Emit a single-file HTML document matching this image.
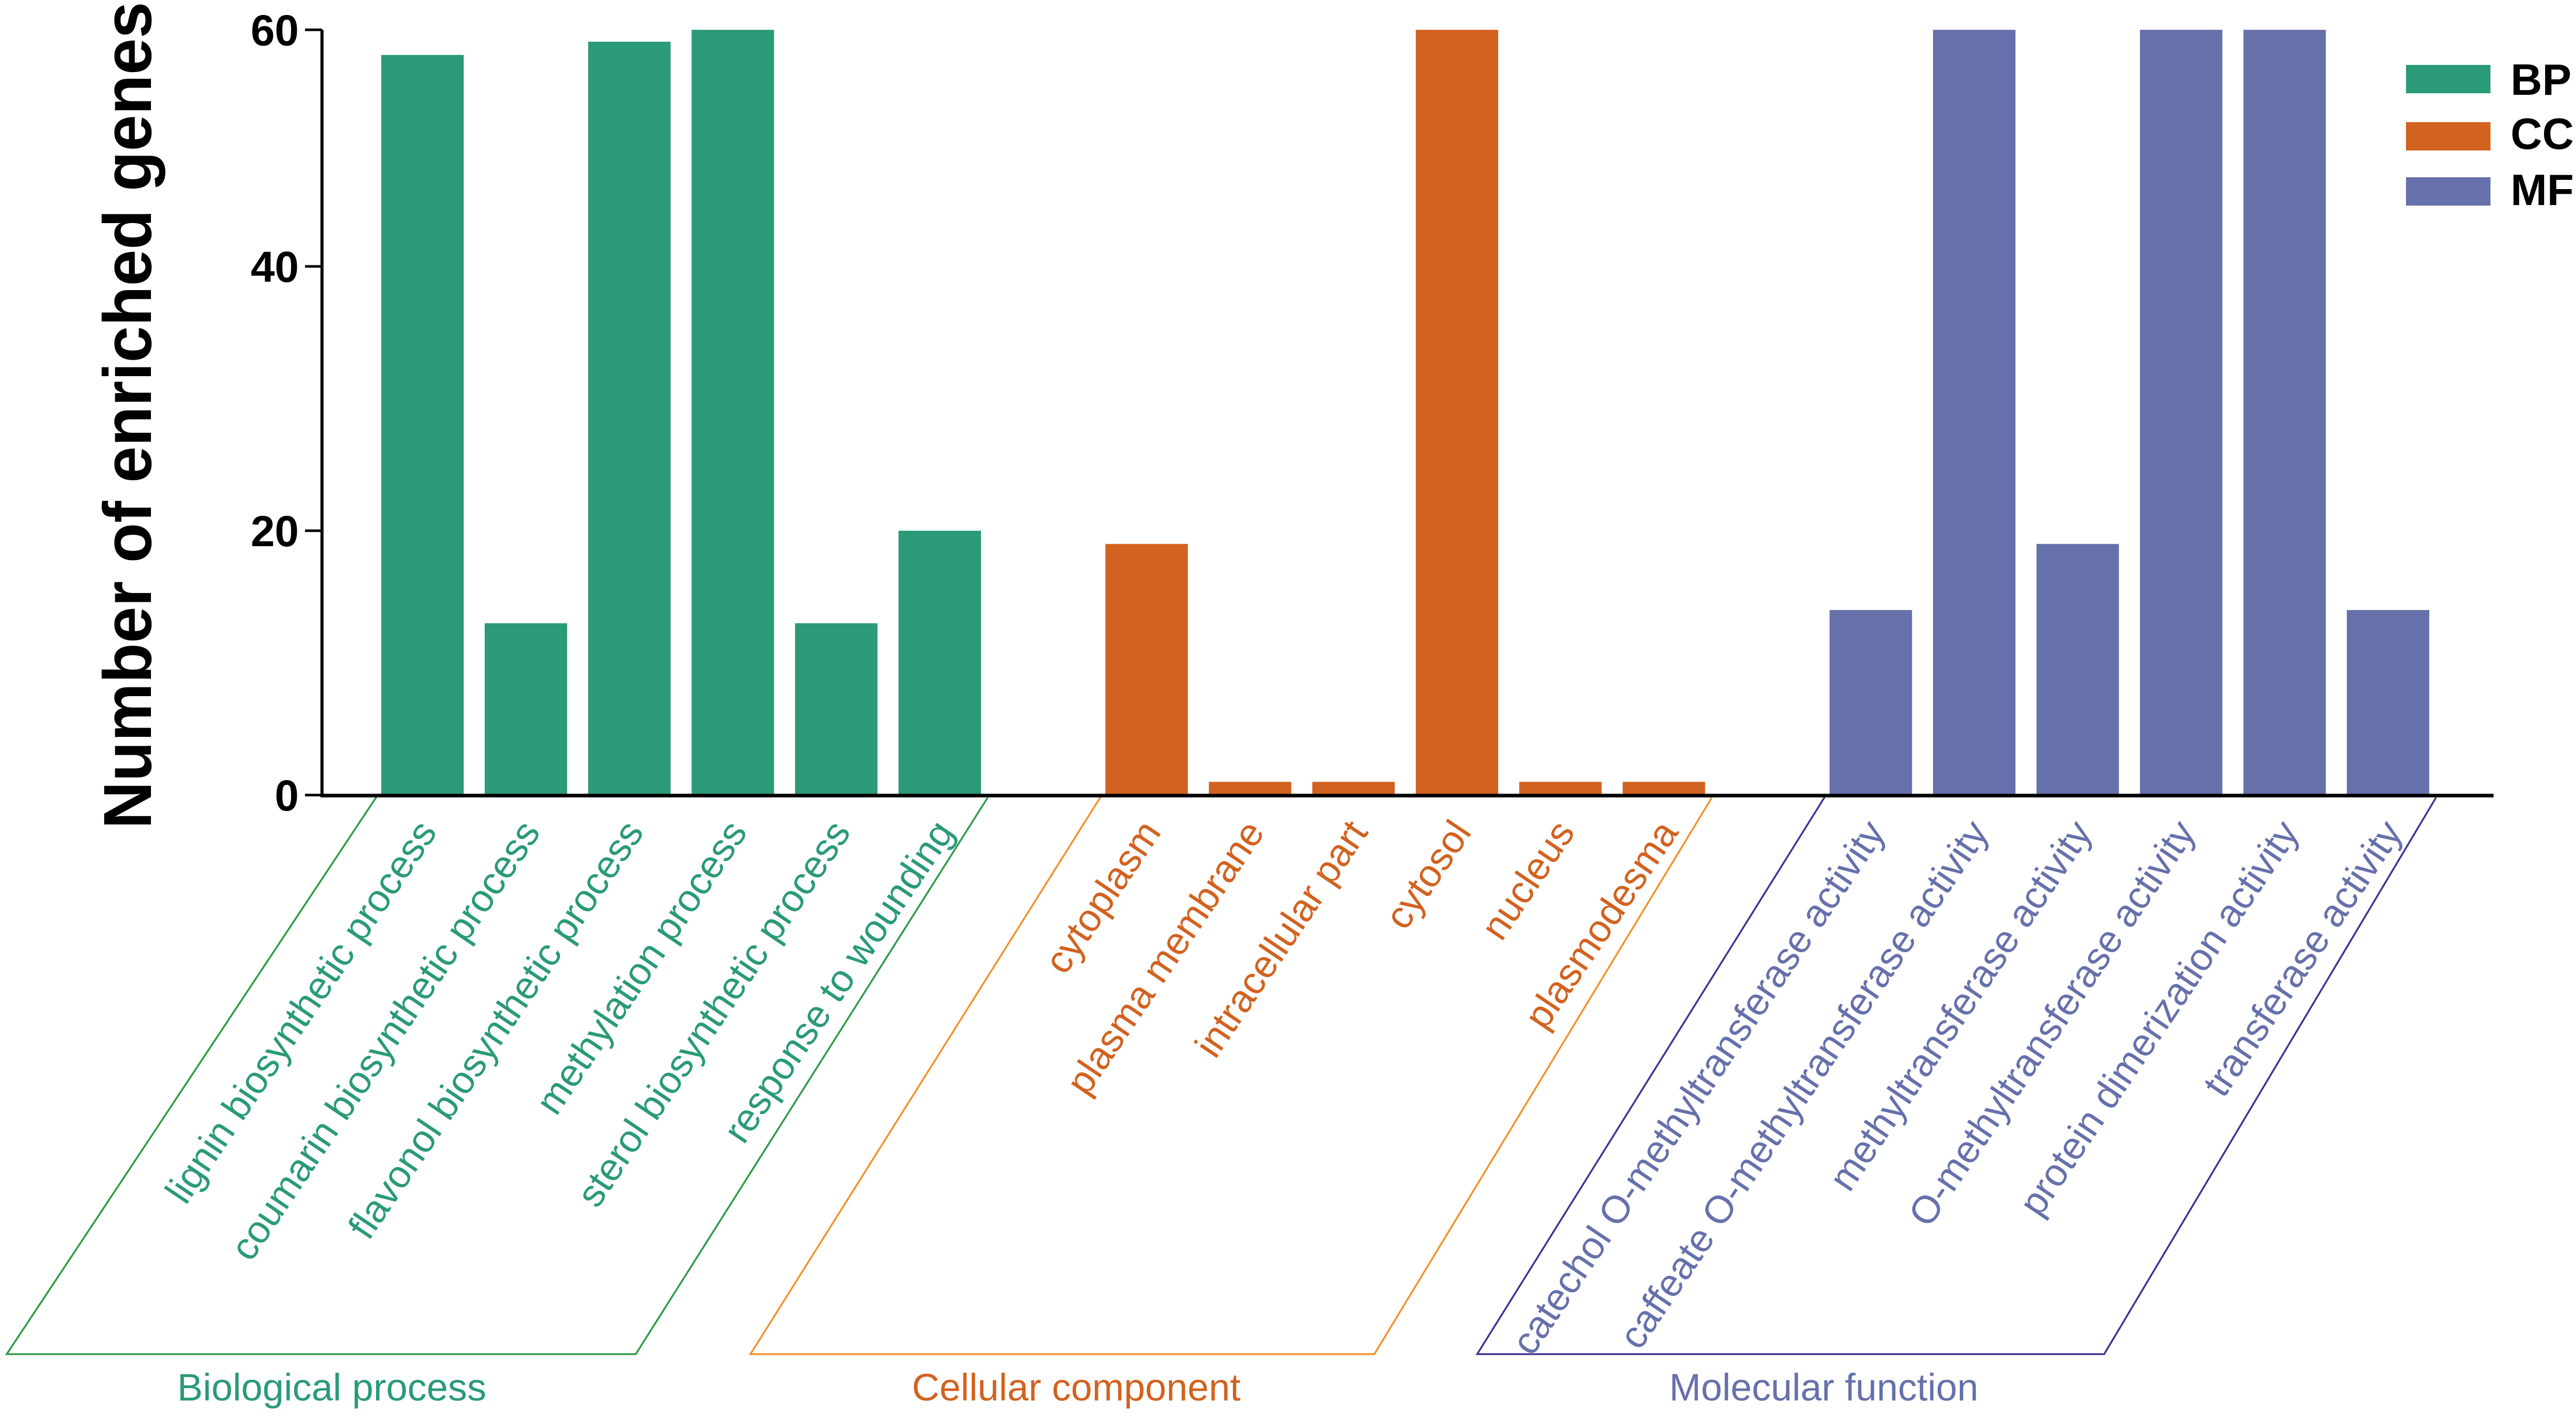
<!DOCTYPE html>
<html><head><meta charset="utf-8"><style>
html,body{margin:0;padding:0;background:#fff;}
svg{display:block;}
text{font-family:"Liberation Sans",Arial,sans-serif;}
</style></head><body>
<svg id="chart" width="5006" height="2750" viewBox="0 0 5006 2750" xmlns="http://www.w3.org/2000/svg">
<g id="brackets"></g>
<g id="bars"></g>
<g id="labels"></g>
<g id="axes"></g>
<g id="legend"></g>
</svg>
<script>
const groupNames = ["Biological process","Cellular component","Molecular function"];
const groupKeys = ["BP","CC","MF"];
const bpCategories = ["lignin biosynthetic process","coumarin biosynthetic process","flavonol biosynthetic process","methylation process","sterol biosynthetic process","response to wounding"];
const ccCategories = ["cytoplasm","plasma membrane","intracellular part","cytosol","nucleus","plasmodesma"];
const mfCategories = ["catechol O-methyltransferase activity","caffeate O-methyltransferase activity","methyltransferase activity","O-methyltransferase activity","protein dimerization activity","transferase activity"];
const bpValues = [56, 13, 57, 60, 13, 20];
const ccValues = [19, 1, 1, 60, 1, 1];
const mfValues = [14, 60, 19, 60, 60, 14];
const tickValues = [0, 20, 40, 60];
const tickLabels = ["0", "20", "40", "60"];
const axisMax = 57.9;

const NS = "http://www.w3.org/2000/svg";
const barColors = ["#2a9a78", "#d2621f", "#6670ab"];
const bracketColors = ["#2e9a45", "#f0922e", "#3c3391"];
const leftShift = [718, 680, 675];
const rightShift = [683, 655, 644];
const titleCenter = [644, 2089, 3540];
const titleWidth = [600, 638, 600];
const y0 = 1543, pxPerUnit = 25.65;
function y(v){ return y0 - Math.min(v, axisMax) * pxPerUnit; }
const slot0 = 740, slotW = 200.8, barW = 160;
function x(slot){ return slot0 + slot * slotW; }
function mk(tag, attrs, parent){ const e=document.createElementNS(NS,tag); for(const k in attrs) e.setAttribute(k, attrs[k]); parent.appendChild(e); return e; }

const barsG = document.getElementById("bars");
const labelsG = document.getElementById("labels");
const brG = document.getElementById("brackets");
const axG = document.getElementById("axes");
const lgG = document.getElementById("legend");

const allCats = [bpCategories, ccCategories, mfCategories];
const allVals = [bpValues, ccValues, mfValues];
for (let g = 0; g < 3; g++) {
  const cats = allCats[g], vals = allVals[g];
  for (let j = 0; j < vals.length; j++) {
    const s = g * 7 + j;
    const r = mk("rect", {x: x(s), y: y(vals[j]), width: barW, height: y0 - y(vals[j]), fill: barColors[g]}, barsG);
    
    
    const cx = x(s) + barW/2 + 30, cy = 1615;
    const t = mk("text", {x: 0, y: 0, transform: "translate(" + cx + "," + cy + ") rotate(-56)", "text-anchor": "end", "font-size": 75, fill: barColors[g]}, labelsG);
    t.textContent = cats[j];
    
    
  }
  const first = x(g*7), last = x(g*7 + 5) + barW;
  const tl = first - 9, tr = last + 13;
  const p = mk("polyline", {points: (tl)+",1546 "+(tl-leftShift[g])+",2628 "+(tr-rightShift[g])+",2628 "+(tr)+",1548", fill: "none", stroke: bracketColors[g], "stroke-width": 3.5}, brG);
  
  
  const gt = mk("text", {x: titleCenter[g], y: 2718, "text-anchor": "middle", "font-size": 74, fill: barColors[g], textLength: titleWidth[g], lengthAdjust: "spacingAndGlyphs"}, brG);
  gt.textContent = groupNames[g];
  
  
}

const ya = mk("line", {x1: 625, y1: y(axisMax), x2: 625, y2: y0 + 3, stroke: "#000", "stroke-width": 6}, axG);


const xa = mk("line", {x1: 622, y1: y0 + 1, x2: 4840, y2: y0 + 1, stroke: "#000", "stroke-width": 7}, axG);


for (let i = 0; i < tickValues.length; i++) {
  const ty = y(tickValues[i]);
  const tk = mk("line", {x1: 592, y1: ty, x2: 625, y2: ty, stroke: "#000", "stroke-width": 5}, axG);
  
  
  const tl = mk("text", {x: 580, y: ty + 30, "text-anchor": "end", "font-size": 84, "font-weight": "bold", fill: "#000"}, axG);
  tl.textContent = tickLabels[i];
  
  
}
const yt = mk("text", {x: 0, y: 0, transform: "translate(293,806) rotate(-90)", "text-anchor": "middle", "font-size": 132, "font-weight": "bold", fill: "#000", textLength: 1605, lengthAdjust: "spacingAndGlyphs"}, axG);
yt.textContent = "Number of  enriched genes";



const lgY = [126, 237, 344];
const lgBase = [184, 289, 398];
for (let i = 0; i < 3; i++) {
  const sw = mk("rect", {x: 4670, y: lgY[i], width: 164, height: 55, fill: barColors[i]}, lgG);
  
  
  const lt = mk("text", {x: 4873, y: lgBase[i], "font-size": 85, "font-weight": "bold", fill: "#000"}, lgG);
  lt.textContent = groupKeys[i];
  
  
}
</script>
</body></html>
